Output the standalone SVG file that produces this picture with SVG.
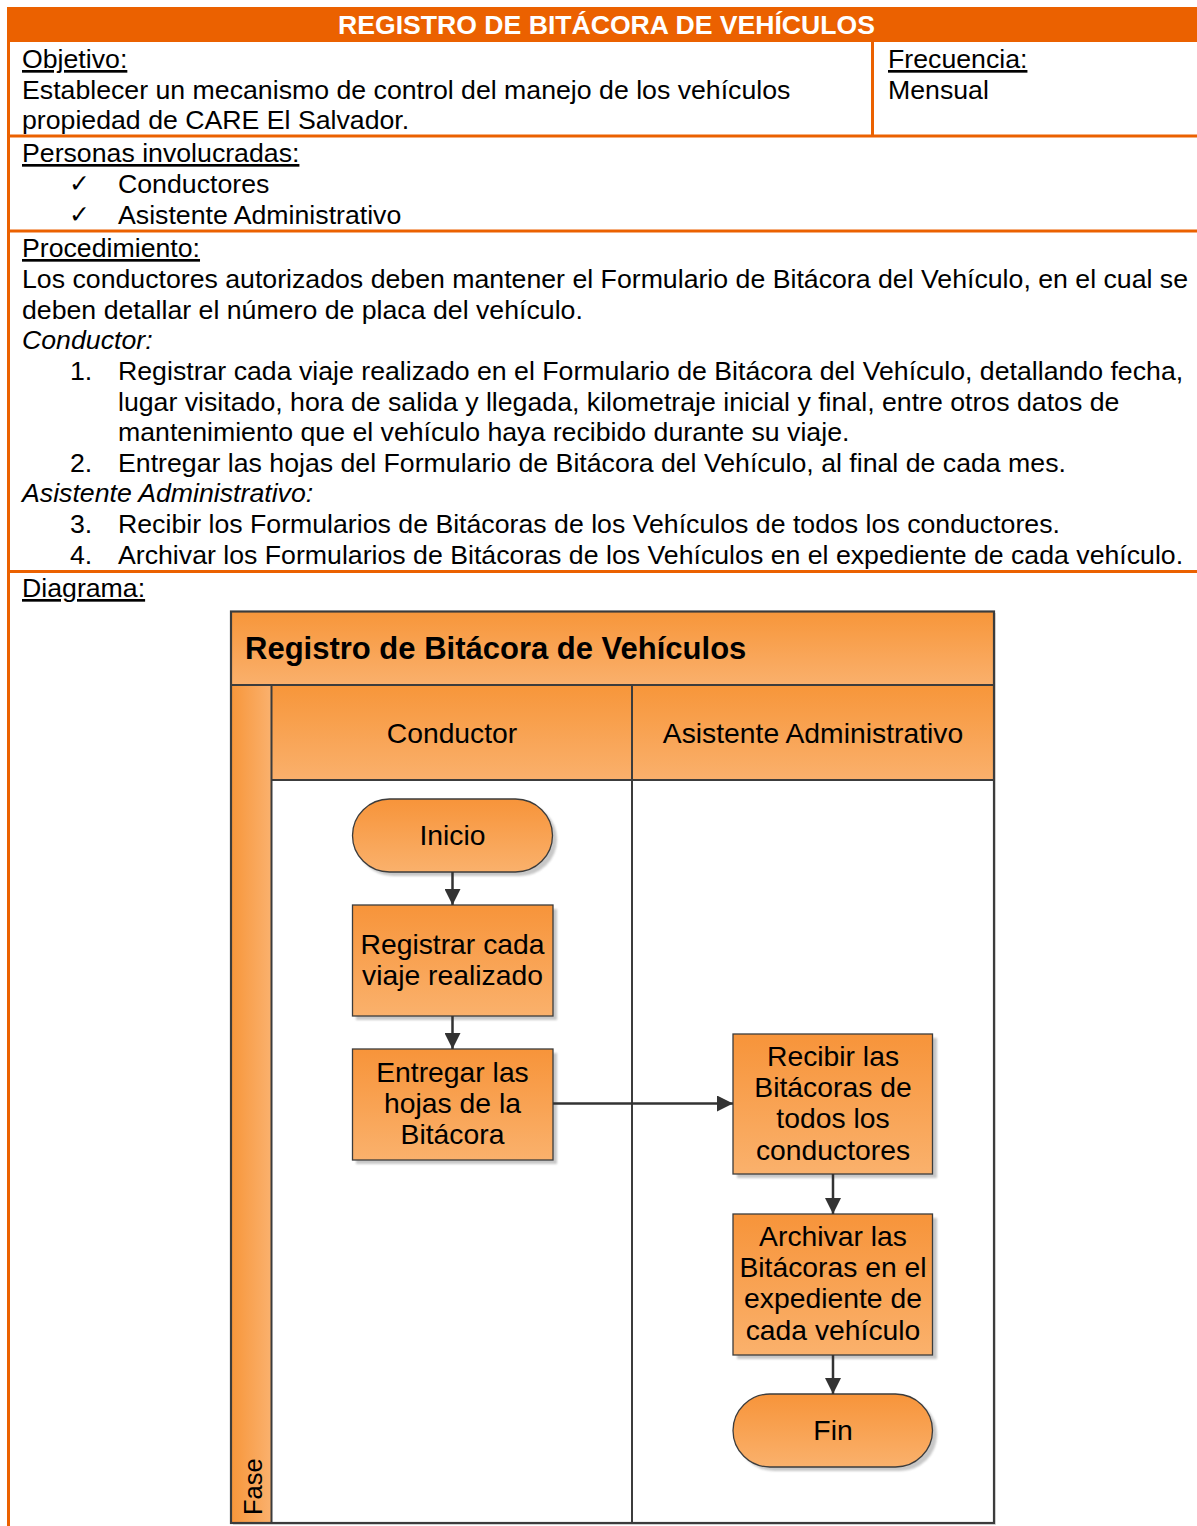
<svg xmlns="http://www.w3.org/2000/svg" width="1197" height="1526" viewBox="0 0 1197 1526">
  <style>
    text { font-family: "Liberation Sans", Arial, sans-serif; fill: #000; }
    .body { font-size: 26.7px; }
    .ul { text-decoration: underline; }
    .it { font-style: italic; }
    .chk { font-family: "DejaVu Sans", sans-serif; font-size: 25px; }
    .frame { stroke: #EB6100; stroke-width: 3; fill: none; }
    .lbl { font-size: 28.3px; text-anchor: middle; }
    .shape { fill: url(#shapeFill); stroke: #3c3c3c; stroke-width: 1.3; }
    .shadow { fill: #9a9a9a; opacity: 0.55; filter: url(#soft); }
    .lane { stroke: #3c3c3c; stroke-width: 2; }
    .conn { stroke: #333; stroke-width: 2.5; fill: none; marker-end: url(#arrow); }
  </style>
  <defs>
    <linearGradient id="shapeFill" x1="0" y1="0" x2="0" y2="1">
      <stop offset="0" stop-color="#F7943A"/>
      <stop offset="1" stop-color="#FAB16C"/>
    </linearGradient>
    <linearGradient id="headFill" x1="0" y1="0" x2="0" y2="1">
      <stop offset="0" stop-color="#F7963A"/>
      <stop offset="1" stop-color="#FAB06C"/>
    </linearGradient>
    <linearGradient id="phaseFill" x1="0" y1="0" x2="1" y2="0">
      <stop offset="0" stop-color="#F7963A"/>
      <stop offset="1" stop-color="#FAB16E"/>
    </linearGradient>
    <filter id="soft" x="-10%" y="-10%" width="120%" height="120%">
      <feGaussianBlur stdDeviation="1.2"/>
    </filter>
    <marker id="arrow" viewBox="0 0 16 16" refX="16" refY="8" markerWidth="16" markerHeight="16" markerUnits="userSpaceOnUse" orient="auto">
      <path d="M0,0 L16,8 L0,16 Z" fill="#333"/>
    </marker>
  </defs>

  <rect width="1197" height="1526" fill="#fff"/>

  <!-- form frame -->
  <g id="form-frame">
    <rect x="7" y="7" width="1190" height="35" fill="#EB6100"/>
    <line class="frame" x1="8.5" y1="7" x2="8.5" y2="1526"/>
    <line class="frame" x1="7" y1="136" x2="1197" y2="136"/>
    <line class="frame" x1="7" y1="231" x2="1197" y2="231"/>
    <line class="frame" x1="7" y1="571.5" x2="1197" y2="571.5"/>
    <line class="frame" x1="872.5" y1="42" x2="872.5" y2="136" stroke-width="2.5"/>
    <text x="606.5" y="33.5" text-anchor="middle" font-size="26.6" font-weight="bold" style="fill:#fff">REGISTRO DE BITÁCORA DE VEHÍCULOS</text>
  </g>

  <!-- form texts -->
  <g id="form-text" class="body">
    <text x="22" y="68" class="body ul">Objetivo:</text>
    <text x="22" y="98.5" class="body">Establecer un mecanismo de control del manejo de los vehículos</text>
    <text x="22" y="129" class="body">propiedad de CARE El Salvador.</text>
    <text x="888" y="68" class="body ul">Frecuencia:</text>
    <text x="888" y="98.5" class="body">Mensual</text>

    <text x="22" y="162" class="body ul">Personas involucradas:</text>
    <text x="69" y="192" class="chk">✓</text>
    <text x="118" y="193" class="body">Conductores</text>
    <text x="69" y="223" class="chk">✓</text>
    <text x="118" y="224" class="body">Asistente Administrativo</text>

    <text x="22" y="257" class="body ul">Procedimiento:</text>
    <text x="22" y="288" class="body">Los conductores autorizados deben mantener el Formulario de Bitácora del Vehículo, en el cual se</text>
    <text x="22" y="318.5" class="body">deben detallar el número de placa del vehículo.</text>
    <text x="22" y="349" class="body it">Conductor:</text>
    <text x="70" y="380" class="body">1.</text>
    <text x="118" y="380" class="body">Registrar cada viaje realizado en el Formulario de Bitácora del Vehículo, detallando fecha,</text>
    <text x="118" y="410.5" class="body">lugar visitado, hora de salida y llegada, kilometraje inicial y final, entre otros datos de</text>
    <text x="118" y="441" class="body">mantenimiento que el vehículo haya recibido durante su viaje.</text>
    <text x="70" y="472" class="body">2.</text>
    <text x="118" y="472" class="body">Entregar las hojas del Formulario de Bitácora del Vehículo, al final de cada mes.</text>
    <text x="22" y="502" class="body it">Asistente Administrativo:</text>
    <text x="70" y="533" class="body">3.</text>
    <text x="118" y="533" class="body">Recibir los Formularios de Bitácoras de los Vehículos de todos los conductores.</text>
    <text x="70" y="564" class="body">4.</text>
    <text x="118" y="564" class="body">Archivar los Formularios de Bitácoras de los Vehículos en el expediente de cada vehículo.</text>
    <text x="22" y="597" class="body ul">Diagrama:</text>
  </g>

  <!-- swimlane pool -->
  <g id="pool">
    <rect x="233" y="613" width="763" height="912" fill="#bdbdbd" opacity="0.5"/>
    <rect x="231" y="611.5" width="763" height="911.5" fill="#fff"/>
    <rect x="231" y="611.5" width="763" height="73.5" fill="url(#headFill)"/>
    <rect x="231" y="685" width="40.5" height="838" fill="url(#phaseFill)"/>
    <rect x="271.5" y="685" width="722.5" height="95" fill="url(#headFill)"/>
    <text x="245" y="659" font-size="31" font-weight="bold">Registro de Bitácora de Vehículos</text>
    <text class="lbl" x="452" y="743">Conductor</text>
    <text class="lbl" x="813" y="743">Asistente Administrativo</text>
    <text transform="translate(262 1515) rotate(-90)" font-size="25.5">Fase</text>
    <line class="lane" x1="231" y1="685" x2="994" y2="685"/>
    <line class="lane" x1="271.5" y1="780" x2="994" y2="780"/>
    <line class="lane" x1="271.5" y1="685" x2="271.5" y2="1523"/>
    <line class="lane" x1="632" y1="685" x2="632" y2="1523"/>
    <rect x="231" y="611.5" width="763" height="911.5" fill="none" stroke="#3c3c3c" stroke-width="2.2"/>
  </g>

  <!-- flow nodes -->
  <g id="node-inicio">
    <rect class="shadow" x="356" y="803" width="201" height="73" rx="37" ry="36.5"/>
    <rect class="shape" x="352.5" y="799" width="200" height="73" rx="37" ry="36.5"/>
    <text class="lbl" x="452.5" y="845">Inicio</text>
  </g>
  <g id="node-registrar">
    <rect class="shadow" x="356" y="909" width="201" height="111"/>
    <rect class="shape" x="352.5" y="905" width="200.5" height="111"/>
    <text class="lbl" x="452.5" y="954">Registrar cada</text>
    <text class="lbl" x="452.5" y="985">viaje realizado</text>
  </g>
  <g id="node-entregar">
    <rect class="shadow" x="356" y="1053" width="201" height="111"/>
    <rect class="shape" x="352.5" y="1049" width="200.5" height="111"/>
    <text class="lbl" x="452.5" y="1082">Entregar las</text>
    <text class="lbl" x="452.5" y="1113">hojas de la</text>
    <text class="lbl" x="452.5" y="1144">Bitácora</text>
  </g>
  <g id="node-recibir">
    <rect class="shadow" x="737" y="1038" width="200" height="140"/>
    <rect class="shape" x="733" y="1034" width="199.5" height="140"/>
    <text class="lbl" x="833" y="1066">Recibir las</text>
    <text class="lbl" x="833" y="1097">Bitácoras de</text>
    <text class="lbl" x="833" y="1128">todos los</text>
    <text class="lbl" x="833" y="1160">conductores</text>
  </g>
  <g id="node-archivar">
    <rect class="shadow" x="737" y="1218" width="200" height="141"/>
    <rect class="shape" x="733" y="1214" width="199.5" height="141"/>
    <text class="lbl" x="833" y="1246">Archivar las</text>
    <text class="lbl" x="833" y="1277">Bitácoras en el</text>
    <text class="lbl" x="833" y="1308">expediente de</text>
    <text class="lbl" x="833" y="1340">cada vehículo</text>
  </g>
  <g id="node-fin">
    <rect class="shadow" x="737" y="1398" width="200" height="73" rx="37" ry="36.5"/>
    <rect class="shape" x="733" y="1394" width="199.5" height="73" rx="37" ry="36.5"/>
    <text class="lbl" x="833" y="1440">Fin</text>
  </g>

  <!-- connectors -->
  <g id="connectors">
    <line class="conn" x1="452.5" y1="872" x2="452.5" y2="905"/>
    <line class="conn" x1="452.5" y1="1016" x2="452.5" y2="1049"/>
    <line class="conn" x1="553" y1="1103.5" x2="733" y2="1103.5"/>
    <line class="conn" x1="833" y1="1174" x2="833" y2="1214"/>
    <line class="conn" x1="833" y1="1355" x2="833" y2="1394"/>
  </g>
</svg>
